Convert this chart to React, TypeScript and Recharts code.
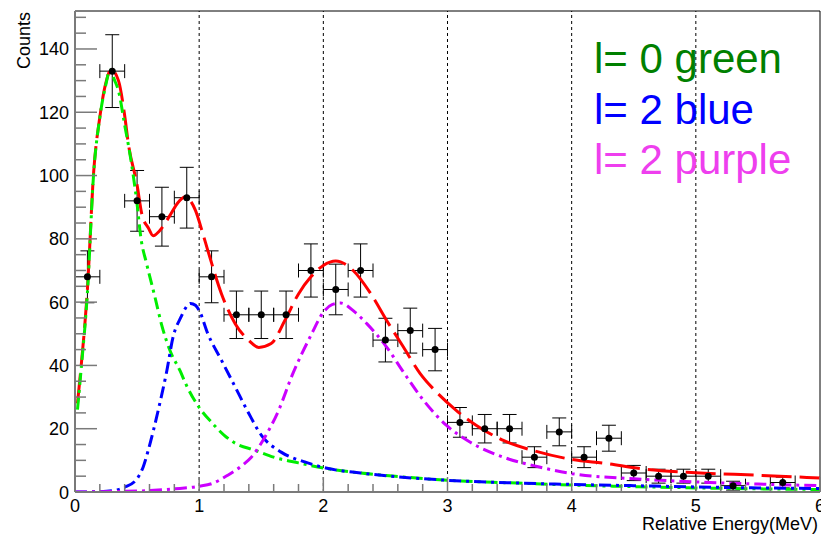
import {
  ComposedChart,
  Line,
  Scatter,
  ErrorBar,
  XAxis,
  YAxis,
  ReferenceLine,
} from "recharts";

// measured spectrum
const binCenters = [
  0.1, 0.3, 0.5, 0.7, 0.9, 1.1, 1.3, 1.5, 1.7, 1.9, 2.1, 2.3, 2.5, 2.7, 2.9,
  3.1, 3.3, 3.5, 3.7, 3.9, 4.1, 4.3, 4.5, 4.7, 4.9, 5.1, 5.3, 5.7,
];
const counts = [
  68, 133, 92, 87, 93, 68, 56, 56, 56, 70, 64, 70, 48, 51, 45, 22, 20, 20, 11,
  19, 11, 17, 6, 5, 5, 5, 2, 3,
];
const countErrors = [
  8.2, 11.5, 9.6, 9.3, 9.6, 8.2, 7.5, 7.5, 7.5, 8.4, 8, 8.4, 6.9, 7.1, 6.7,
  4.7, 4.5, 4.5, 3.3, 4.4, 3.3, 4.1, 2.4, 2.2, 2.2, 2.2, 1.4, 1.7,
];
const binHalfWidth = 0.1;

// fit: total
const totalX = [
  0.02, 0.05, 0.1, 0.15, 0.2, 0.25, 0.29, 0.35, 0.4, 0.43, 0.5, 0.54, 0.59,
  0.63, 0.68, 0.765, 0.83, 0.886, 0.93, 0.97, 1.03, 1.07, 1.18, 1.29, 1.4,
  1.48, 1.58, 1.69, 1.8, 1.9, 2.0, 2.1, 2.24, 2.375, 2.51, 2.645, 2.78, 2.91,
  3.07, 3.23, 3.45, 3.7, 4.0, 4.28, 4.55, 5.0, 5.5, 6.0,
];
const totalY = [
  28, 40, 64, 101, 118.5, 129.5, 133.5, 130, 119, 110, 97, 87.5, 83.5, 81,
  82.5, 87.4, 91.5, 93.2, 92, 89, 81.6, 76.3, 62.6, 53.2, 47.9, 45.7, 46.9,
  54.2, 62.6, 68, 71.6, 73, 70, 63.1, 54.2, 45.8, 37.4, 31.6, 25.8, 21.1, 16.3,
  13, 10.3, 9, 7.4, 6.1, 5.3, 4.4,
];

// l = 0 component
const l0X = [
  0.02, 0.05, 0.1, 0.15, 0.2, 0.25, 0.28, 0.32, 0.35, 0.4, 0.45, 0.5, 0.53,
  0.577, 0.644, 0.7, 0.765, 0.845, 0.9, 1.0, 1.1, 1.2, 1.3, 1.45, 1.6, 1.8,
  2.0, 2.3, 2.6, 3.0, 3.5, 4.0, 4.5, 5.0, 5.5, 6.0,
];
const l0Y = [
  26, 39, 63, 100.5, 118.4, 129, 133.4, 130, 126.8, 116, 105, 91, 80.5, 72.1,
  61.6, 52.5, 44.7, 38.4, 33.5, 26.7, 22, 18, 15.2, 13.2, 11, 9.2, 7.6, 6,
  4.9, 3.7, 2.9, 2.2, 1.7, 1.3, 1.0, 0.8,
];

// l = 2 component (blue)
const l2aX = [
  0, 0.2, 0.3, 0.4, 0.5, 0.55, 0.59, 0.67, 0.74, 0.79, 0.85, 0.93, 0.97, 1.0,
  1.07, 1.18, 1.29, 1.4, 1.5, 1.66, 1.85, 2.04, 2.3, 2.6, 3.0, 3.5, 4.0, 4.5,
  5.0, 5.5, 6.0,
];
const l2aY = [
  0, 0.1, 0.4, 1.5, 4.2, 8, 13.2, 25.8, 38.4, 49, 55, 59.6, 59, 57.4, 50,
  41.6, 33.2, 24.8, 18, 12.6, 9.5, 7.4, 6, 4.8, 3.7, 2.9, 2.4, 2.0, 1.6, 1.3,
  1.1,
];

// l = 2 component (purple)
const l2bX = [
  0, 0.5, 0.8, 1.0, 1.1, 1.23, 1.35, 1.42, 1.53, 1.64, 1.75, 1.9, 2.0, 2.07,
  2.14, 2.25, 2.35, 2.51, 2.645, 2.806, 2.99, 3.18, 3.45, 3.74, 4.0, 4.5, 5.0,
  5.5, 6.0,
];
const l2bY = [
  0, 0.3, 1.0, 1.8, 2.6, 5.3, 8.5, 11, 17.4, 25.8, 37, 49.5, 56.8, 59.2, 59.7,
  57, 53.2, 45.8, 37.9, 29, 21.1, 15.8, 11, 7.9, 5.8, 4.2, 3.2, 2.5, 2.0,
];

const yMax = 152;
const gridX = [1, 2, 3, 4, 5];
const yTicks = Array.from({ length: 31 }, (_, i) => i * 5);
const xTicks = Array.from({ length: 31 }, (_, i) => i / 5);

const legendItems = [
  { text: "l= 0 green", color: "#008000" },
  { text: "l= 2 blue", color: "#0000ff" },
  { text: "l= 2 purple", color: "#ee3fee" },
];

const toPoints = (xs: number[], ys: number[]) =>
  xs.map((x, i) => ({ x, y: ys[i] }));

const dataPoints = binCenters.map((x, i) => ({
  x,
  y: counts[i],
  ex: binHalfWidth,
  ey: countErrors[i],
}));

const font = "'Liberation Sans', Arial, Helvetica, sans-serif";
const axisGray = "#7a7a7a";

const YTick = (props: any) => {
  const { x, y, payload } = props;
  const major = payload.value % 20 === 0;
  return (
    <g>
      <line
        x1={x}
        x2={x + (major ? 22 : 11)}
        y1={y}
        y2={y}
        stroke={axisGray}
        strokeWidth={1.5}
      />
      {major && (
        <text
          x={x - 6}
          y={y}
          dy={6.5}
          textAnchor="end"
          fontSize={18}
          fontFamily={font}
          fill="#000"
        >
          {payload.value}
        </text>
      )}
    </g>
  );
};

const XTick = (props: any) => {
  const { x, y, payload } = props;
  const v = payload.value;
  const major = Math.abs(v - Math.round(v)) < 1e-6;
  return (
    <g>
      <line
        x1={x}
        x2={x}
        y1={y}
        y2={y - (major ? 15 : 8)}
        stroke={axisGray}
        strokeWidth={1.5}
      />
      {major && (
        <text
          x={x}
          y={y + 20}
          textAnchor="middle"
          fontSize={18}
          fontFamily={font}
          fill="#000"
        >
          {Math.round(v)}
        </text>
      )}
    </g>
  );
};

const Dot = (props: any) => <circle cx={props.cx} cy={props.cy} r={3.5} fill="#000" />;

export default function App() {
  return (
    <div style={{ position: "absolute", left: 0, top: 0, width: 821, height: 535, background: "#fff" }}>
      <ComposedChart
        width={821}
        height={535}
        margin={{ top: 11, right: 1, bottom: 0, left: 0 }}
      >
        <XAxis
          dataKey="x"
          type="number"
          domain={[0, 6]}
          ticks={xTicks}
          interval={0}
          allowDataOverflow
          height={43}
          tickSize={0}
          tickMargin={0}
          tick={<XTick />}
          tickLine={false}
          axisLine={{ stroke: axisGray, strokeWidth: 2 }}
        />
        <YAxis
          type="number"
          domain={[0, yMax]}
          ticks={yTicks}
          interval={0}
          allowDataOverflow
          width={75}
          tickSize={0}
          tickMargin={0}
          tick={<YTick />}
          tickLine={false}
          axisLine={{ stroke: axisGray, strokeWidth: 2 }}
        />
        {gridX.map((g) => (
          <ReferenceLine key={g} x={g} stroke="#000" strokeWidth={1} strokeDasharray="3 3" />
        ))}
        <ReferenceLine y={yMax} stroke="#000" strokeWidth={1} />
        <ReferenceLine x={6} stroke="#000" strokeWidth={1} />
        <Scatter data={dataPoints} dataKey="y" shape={<Dot />} isAnimationActive={false}>
          <ErrorBar dataKey="ex" direction="x" width={7} stroke="#000" strokeWidth={1} />
          <ErrorBar dataKey="ey" direction="y" width={7} stroke="#000" strokeWidth={1} />
        </Scatter>
        <Line
          data={toPoints(totalX, totalY)}
          dataKey="y"
          type="monotone"
          stroke="#ff0000"
          strokeWidth={3}
          strokeDasharray="30 8"
          dot={false}
          isAnimationActive={false}
        />
        <Line
          data={toPoints(l0X, l0Y)}
          dataKey="y"
          type="monotone"
          stroke="#00ee00"
          strokeWidth={3}
          strokeDasharray="12 5 3 5"
          dot={false}
          isAnimationActive={false}
        />
        <Line
          data={toPoints(l2aX, l2aY)}
          dataKey="y"
          type="monotone"
          stroke="#0000ff"
          strokeWidth={3}
          strokeDasharray="12 5 3 5"
          dot={false}
          isAnimationActive={false}
        />
        <Line
          data={toPoints(l2bX, l2bY)}
          dataKey="y"
          type="monotone"
          stroke="#cc00ff"
          strokeWidth={3}
          strokeDasharray="12 5 3 5"
          dot={false}
          isAnimationActive={false}
        />
      </ComposedChart>
      <svg
        width={821}
        height={535}
        style={{ position: "absolute", left: 0, top: 0, pointerEvents: "none" }}
      >
        <text
          x={30}
          y={12}
          transform="rotate(-90 30 12)"
          textAnchor="end"
          fontSize={18}
          fontFamily={font}
          fill="#000"
        >
          Counts
        </text>
        <text x={818} y={530} textAnchor="end" fontSize={18} fontFamily={font} fill="#000">
          Relative Energy(MeV)
        </text>
        {legendItems.map((item, i) => (
          <text
            key={item.text}
            x={594}
            y={73 + i * 50.5}
            fontSize={42}
            fontFamily={font}
            fill={item.color}
          >
            {item.text}
          </text>
        ))}
      </svg>
    </div>
  );
}
